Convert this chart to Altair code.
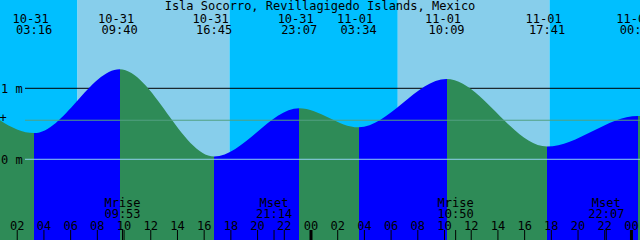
import altair as alt
import pandas as pd

TITLE = "Isla Socorro, Revillagigedo Islands, Mexico"

# tide extremes: date, time, level (m); first and last lie just outside the view
tide_dates = ["10-30", "10-31", "10-31", "10-31", "10-31", "11-01", "11-01", "11-01", "11-02", "11-02"]
tide_times = ["23:00", "03:16", "09:40", "16:45", "23:07", "03:34", "10:09", "17:41", "00:29", "04:40"]
tide_levels = [0.79, 0.37, 1.27, 0.04, 0.72, 0.45, 1.13, 0.18, 0.61, 0.45]

# sunrise / sunset
sun_dates = ["10-31", "10-31", "11-01", "11-01"]
sun_times = ["06:31", "17:54", "06:30", "17:52"]

# moon events
moon_dates = ["10-31", "10-31", "11-01", "11-01"]
moon_times = ["09:53", "21:14", "10:50", "22:07"]
moon_kinds = ["Mrise", "Mset", "Mrise", "Mset"]

hour_ticks = list(range(2, 49, 2))
level_marks = [1, 0]
level_labels = ["1 m", "0 m"]
msl_level = 0.55

DAY_OFFSET = {"10-30": -24, "10-31": 0, "11-01": 24, "11-02": 48}
X_MIN, X_MAX = 0.71, 48.64
Y_MIN, Y_MAX = -1.137, 2.244

NIGHT = "#00BFFF"
DAY = "#87CEEB"
FLOOD = "#0000FF"
EBB = "#2E8B57"
FONT = "DejaVu Sans Mono"
FS = 12


def hours(d, t):
    hh, mm = t.split(":")
    return DAY_OFFSET[d] + int(hh) + int(mm) / 60.0


xs = alt.Scale(domain=[X_MIN, X_MAX], nice=False, zero=False)
ys = alt.Scale(domain=[Y_MIN, Y_MAX], nice=False, zero=False)

# --- sky (day / night) ---
sun_h = [hours(d, t) for d, t in zip(sun_dates, sun_times)]
bounds = [X_MIN - 50] + sun_h + [X_MAX + 50]
sky = pd.DataFrame({
    "start": bounds[:-1],
    "end": bounds[1:],
    "kind": ["night", "day", "night", "day", "night"],
})
sky_layer = alt.Chart(sky).mark_rect(clip=True).encode(
    x=alt.X("start:Q", scale=xs, axis=None),
    x2="end:Q",
    y=alt.value(0),
    y2=alt.value(240),
    color=alt.Color("kind:N", scale=alt.Scale(domain=["night", "day"], range=[NIGHT, DAY]), legend=None),
)

# --- 1 m line (under the water) ---
lev = pd.DataFrame({"level": level_marks, "label": level_labels})
one_line = alt.Chart(lev[lev.level == 1]).mark_rule(color="black", strokeWidth=1).encode(
    y=alt.Y("level:Q", scale=ys, axis=None), x=alt.value(25), x2=alt.value(640)
)

# --- water ---
tide_h = [hours(d, t) for d, t in zip(tide_dates, tide_times)]
water = pd.DataFrame({"h": tide_h, "level": tide_levels, "base": [Y_MIN] * len(tide_h)})
h0, h1 = tide_h[0], tide_h[-1]
stops = []
for i in range(len(tide_h) - 1):
    c = FLOOD if tide_levels[i + 1] > tide_levels[i] else EBB
    stops.append(alt.GradientStop(offset=(tide_h[i] - h0) / (h1 - h0), color=c))
    stops.append(alt.GradientStop(offset=(tide_h[i + 1] - h0) / (h1 - h0), color=c))
grad = alt.Gradient(gradient="linear", stops=stops, x1=0, x2=1, y1=0, y2=0)
water_layer = alt.Chart(water).mark_area(interpolate="monotone", fill=grad, clip=True).encode(
    x=alt.X("h:Q", scale=xs, axis=None),
    y=alt.Y("level:Q", scale=ys, axis=None),
    y2="base:Q",
)

# --- datum and mean lines ---
zero_line = alt.Chart(lev[lev.level == 0]).mark_rule(color="#8fd0ee", strokeWidth=1).encode(
    y=alt.Y("level:Q", scale=ys, axis=None), x=alt.value(25), x2=alt.value(640)
)
msl = pd.DataFrame({"level": [msl_level], "label": ["+"]})
msl_line = alt.Chart(msl).mark_rule(color="#52a082", strokeWidth=1).encode(
    y=alt.Y("level:Q", scale=ys, axis=None), x=alt.value(25), x2=alt.value(640)
)
msl_text = alt.Chart(msl).mark_text(font=FONT, fontSize=FS, align="center", baseline="alphabetic", dy=1.5, color="black").encode(
    y=alt.Y("level:Q", scale=ys, axis=None), x=alt.value(3), text="label:N"
)
lev_text = alt.Chart(lev).mark_text(font=FONT, fontSize=FS, align="left", baseline="alphabetic", dy=4.5, color="black").encode(
    y=alt.Y("level:Q", scale=ys, axis=None), x=alt.value(1), text="label:N"
)

# --- title ---
title_df = pd.DataFrame({"t": [TITLE]})
title_layer = alt.Chart(title_df).mark_text(font=FONT, fontSize=FS, align="center", baseline="alphabetic", color="black").encode(
    x=alt.value(320), y=alt.value(9.5), text="t:N"
)

# --- tide event labels ---
ev = pd.DataFrame({"h": tide_h, "date": tide_dates, "time": tide_times})
ev = ev[(ev.h >= X_MIN) & (ev.h <= X_MAX)]
ev_date = alt.Chart(ev).mark_text(font=FONT, fontSize=FS, align="center", baseline="alphabetic", dx=-3.5, color="black").encode(
    x=alt.X("h:Q", scale=xs, axis=None), y=alt.value(22.7), text="date:N"
)
ev_time = alt.Chart(ev).mark_text(font=FONT, fontSize=FS, align="center", baseline="alphabetic", color="black").encode(
    x=alt.X("h:Q", scale=xs, axis=None), y=alt.value(34), text="time:N"
)

# --- moon labels ---
moon_h = [hours(d, t) for d, t in zip(moon_dates, moon_times)]
moon = pd.DataFrame({"h": moon_h, "kind": moon_kinds, "time": moon_times, "w": [1] * len(moon_h)})
moon_kind = alt.Chart(moon).mark_text(font=FONT, fontSize=FS, align="center", baseline="alphabetic", color="black").encode(
    x=alt.X("h:Q", scale=xs, axis=None), y=alt.value(206.7), text="kind:N"
)
moon_time = alt.Chart(moon).mark_text(font=FONT, fontSize=FS, align="center", baseline="alphabetic", color="black").encode(
    x=alt.X("h:Q", scale=xs, axis=None), y=alt.value(218.3), text="time:N"
)

# --- hour ticks and labels ---
hrs = pd.DataFrame({
    "h": hour_ticks,
    "label": ["%02d" % (h % 24) for h in hour_ticks],
    "w": [3 if h % 24 == 0 else 1 for h in hour_ticks],
})
ticks_all = pd.concat([hrs[["h", "w"]], moon[["h", "w"]]], ignore_index=True)
tick_layer = alt.Chart(ticks_all).mark_rule(color="black").encode(
    x=alt.X("h:Q", scale=xs, axis=None),
    y=alt.value(230),
    y2=alt.value(240),
    strokeWidth=alt.StrokeWidth("w:Q", scale=None, legend=None),
)
hour_text = alt.Chart(hrs).mark_text(font=FONT, fontSize=FS, align="center", baseline="alphabetic", color="black").encode(
    x=alt.X("h:Q", scale=xs, axis=None), y=alt.value(229.5), text="label:N"
)

chart = alt.layer(
    sky_layer, one_line, water_layer, zero_line, msl_line, msl_text, lev_text,
    title_layer, ev_date, ev_time, moon_kind, moon_time, tick_layer, hour_text,
).properties(
    width=640, height=240, padding=0, autosize=alt.AutoSizeParams(type="none")
).configure_view(stroke=None)

chart.save("out.html", embed_options={"renderer": "svg", "actions": False})
